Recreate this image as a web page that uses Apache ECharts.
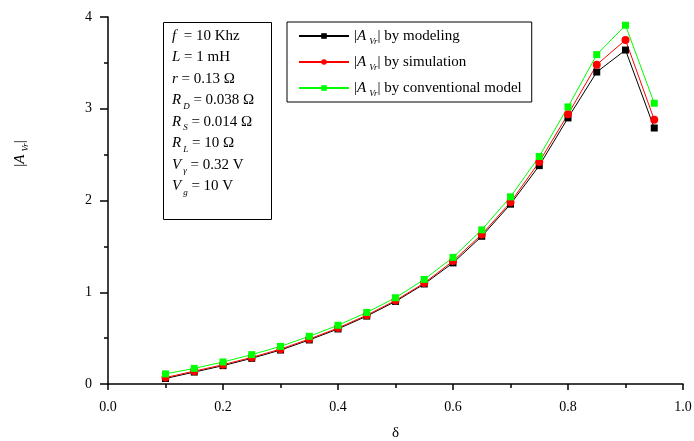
<!DOCTYPE html>
<html>
<head>
<meta charset="utf-8">
<script src="https://cdn.jsdelivr.net/npm/echarts@6/dist/echarts.min.js"></script>
<style>
html, body { margin: 0; padding: 0; background: #fff; }
#chart { width: 694px; height: 441px; }
</style>
</head>
<body>
<div id="chart"></div>
<script>
// duty ratio values on x
const delta = [0.1, 0.15, 0.2, 0.25, 0.3, 0.35, 0.4, 0.45, 0.5, 0.55, 0.6, 0.65, 0.7, 0.75, 0.8, 0.85, 0.9, 0.95];
// |A_Vr| curves
const modeling = [0.06, 0.13, 0.20, 0.28, 0.37, 0.48, 0.60, 0.74, 0.90, 1.09, 1.32, 1.61, 1.96, 2.38, 2.90, 3.40, 3.64, 2.79];
const simulation = [0.07, 0.14, 0.21, 0.29, 0.38, 0.49, 0.61, 0.75, 0.91, 1.10, 1.34, 1.63, 1.98, 2.42, 2.94, 3.48, 3.75, 2.88];
const conventional = [0.11, 0.17, 0.24, 0.32, 0.41, 0.52, 0.64, 0.78, 0.94, 1.14, 1.38, 1.68, 2.04, 2.48, 3.02, 3.59, 3.91, 3.06];
const seriesNames = ["modeling", "simulation", "conventional model"];
// parameter box lines: [symbol, subscript, rest]
const params = [
  ["f", "", "  = 10 Khz"],
  ["L", "", " = 1 mH"],
  ["r", "", " = 0.13 Ω"],
  ["R", "D", " = 0.038 Ω"],
  ["R", "S", " = 0.014 Ω"],
  ["R", "L", " = 10 Ω"],
  ["V", "γ", " = 0.32 V"],
  ["V", "g", " = 10 V"],
];

const font = "Liberation Serif";
const rich = {
  i: { fontFamily: font, fontStyle: "italic", fontSize: 15, lineHeight: 20, color: "#000" },
  s: { fontFamily: font, fontStyle: "italic", fontSize: 9, lineHeight: 7, verticalAlign: "bottom", padding: [0, 0, 0, 3], color: "#000" },
};

const myChart = echarts.init(document.getElementById("chart"));

const paramText = params
  .map((p) => "{i|" + p[0] + "}" + (p[1] ? "{s|" + p[1] + "}" : "") + p[2])
  .join("\n");

const option = {
  animation: false,
  textStyle: { fontFamily: font },
  grid: { left: 108, right: 11, top: 17, bottom: 57, outerBoundsMode: "none" },
  xAxis: {
    type: "value",
    min: 0,
    max: 1,
    interval: 0.2,
    name: "δ",
    nameLocation: "middle",
    nameGap: 42,
    nameTextStyle: { fontFamily: font, fontSize: 15, color: "#000" },
    axisLine: { lineStyle: { color: "#000", width: 1.5 } },
    axisTick: { length: 6, lineStyle: { color: "#000", width: 1.5 } },
    minorTick: { show: true, splitNumber: 2, length: 4, lineStyle: { color: "#000", width: 1.5 } },
    splitLine: { show: false },
    axisLabel: {
      margin: 16,
      fontFamily: font,
      fontSize: 14,
      color: "#000",
      formatter: (v) => v.toFixed(1),
    },
  },
  yAxis: {
    type: "value",
    min: 0,
    max: 4,
    interval: 1,
    name: "|{i|A}{s|Vr}|",
    nameLocation: "middle",
    nameGap: 78,
    nameRotate: 90,
    nameTextStyle: {
      fontFamily: font,
      fontSize: 15,
      lineHeight: 20,
      color: "#000",
      padding: [0, 0, 0, 94],
      rich: rich,
    },
    axisLine: { show: true, lineStyle: { color: "#000", width: 1.5 } },
    axisTick: { show: true, length: 8, lineStyle: { color: "#000", width: 1.5 } },
    minorTick: { show: true, splitNumber: 2, length: 4, lineStyle: { color: "#000", width: 1.5 } },
    splitLine: { show: false },
    axisLabel: { margin: 16, fontFamily: font, fontSize: 14, color: "#000" },
  },
  legend: {
    orient: "vertical",
    left: 287,
    top: 22,
    padding: [4, 10, 4, 11],
    itemGap: 6,
    itemWidth: 50,
    itemHeight: 7,
    borderColor: "#000",
    borderWidth: 1,
    borderRadius: 0,
    data: seriesNames,
    formatter: (name) => "|{i|A}{s|Vr}| by " + name,
    textStyle: { fontFamily: font, fontSize: 15, lineHeight: 20, color: "#000", rich: rich },
  },
  graphic: [
    {
      type: "rect",
      left: 163,
      top: 22,
      shape: { width: 108, height: 197 },
      style: { fill: "#fff", stroke: "#000", lineWidth: 1 },
    },
    {
      type: "text",
      left: 172,
      top: 25,
      style: {
        text: paramText,
        fontFamily: font,
        fontSize: 15,
        lineHeight: 21.5,
        fill: "#000",
        rich: {
          i: { fontFamily: font, fontStyle: "italic", fontSize: 15, lineHeight: 21.5, fill: "#000" },
          s: { fontFamily: font, fontStyle: "italic", fontSize: 9, lineHeight: 8, verticalAlign: "bottom", padding: [0, 0, 0, 2], fill: "#000" },
        },
      },
    },
  ],
  series: [
    {
      name: seriesNames[0],
      type: "line",
      data: delta.map((d, k) => [d, modeling[k]]),
      symbol: "rect",
      symbolSize: 7,
      lineStyle: { color: "#000", width: 1 },
      itemStyle: { color: "#000" },
    },
    {
      name: seriesNames[1],
      type: "line",
      data: delta.map((d, k) => [d, simulation[k]]),
      symbol: "circle",
      symbolSize: 8,
      lineStyle: { color: "#ff0000", width: 1 },
      itemStyle: { color: "#ff0000" },
    },
    {
      name: seriesNames[2],
      type: "line",
      data: delta.map((d, k) => [d, conventional[k]]),
      symbol: "rect",
      symbolSize: 7,
      lineStyle: { color: "#00ff00", width: 1 },
      itemStyle: { color: "#00ff00" },
    },
  ],
};

option && myChart.setOption(option);
</script>
</body>
</html>
